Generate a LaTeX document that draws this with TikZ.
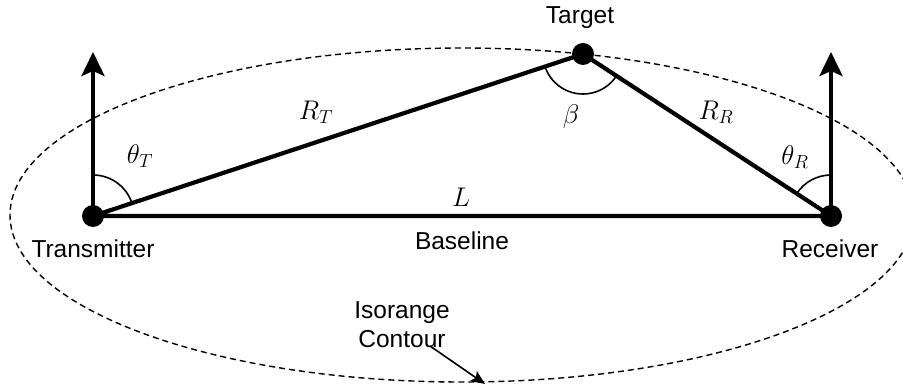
\RequirePackage{fix-cm}
\documentclass[tikz,border=0pt]{standalone}
\usepackage{fontspec}
\setmainfont{Liberation Sans}
\usetikzlibrary{arrows.meta,calc}
\begin{document}
\begin{tikzpicture}[x=1pt,y=-1pt,
  lbl/.style={font=\fontsize{24.5}{29}\selectfont, inner sep=0pt},
  mlbl/.style={font=\fontsize{27}{31}\selectfont, inner sep=0pt},
  thick line/.style={line width=4.2pt},
  dot/.style={circle, fill=black, minimum size=22pt, inner sep=0pt},
  arcline/.style={line width=1.6pt},
  tipbig/.style={-{Stealth[length=24pt, width=23pt, inset=5pt]}},
  contour/.style={line width=1.4pt, dash pattern=on 6pt off 4pt}]
\useasboundingbox (0,0) rectangle (903,387);
\clip (0,0) rectangle (903,387);
% isorange ellipse
\draw[contour] (462,215) ellipse [x radius=452, y radius=167];
% points
\coordinate (tx) at (93,216);
\coordinate (rx) at (831,216);
\coordinate (tg) at (583,54);
\coordinate (txup) at (93,52);
\coordinate (rxup) at (831,52);
% angle arcs (y axis points down, so angles are mirrored)
\draw[arcline] ($(tx)+(0,-41)$) arc[start angle=-90, end angle=-18.3, radius=41];
\draw[arcline] ($(rx)+(0,-41)$) arc[start angle=-90, end angle=-146.8, radius=41];
\draw[arcline] ($(tg)+(161.7:40)$) arc[start angle=161.7, end angle=33.2, radius=40];
% triangle
\draw[thick line, line join=round] (tx) -- (rx) -- (tg) -- cycle;
% vertical arrows
\draw[thick line, tipbig] (tx) -- (txup);
\draw[thick line, tipbig] (rx) -- (rxup);
% dots
\node[dot] (ntx) at (tx) {};
\node[dot] (nrx) at (rx) {};
\node[dot] (ntg) at (tg) {};
% labels
\node[lbl] (ltg) at (580,18) {Target};
\node[lbl] (ltx) at (93,249) {Transmitter};
\node[lbl] (lrx) at (830,249) {Receiver};
\node[lbl] (lbase) at (462,241) {Baseline};
\node[lbl, align=center] (liso) at (402,325) {Isorange\\Contour};
\coordinate (isotail) at (430,346);
\coordinate (isotip) at (485,384);
\draw[line width=1.6pt, -{Stealth[length=14pt, width=12pt, inset=3pt]}] (isotail) -- (isotip);
\node[mlbl] (lthT) at (140,156) {$\theta_T$};
\node[mlbl] (lRT) at (316,112) {$R_T$};
\node[mlbl] (lbeta) at (571,117) {$\beta$};
\node[mlbl] (lL) at (461,197) {$L$};
\node[mlbl] (lRR) at (716,112) {$R_R$};
\node[mlbl] (lthR) at (795,157) {$\theta_R$};
\end{tikzpicture}
\end{document}
